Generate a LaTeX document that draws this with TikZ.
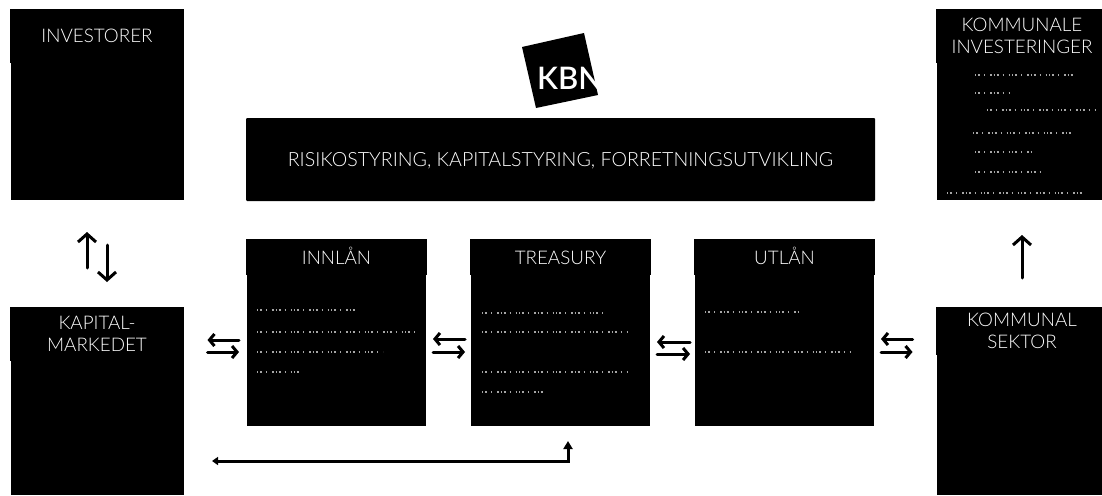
\documentclass[tikz,border=0pt]{standalone}
\usepackage{fontspec}
\setmainfont{Lato}[UprightFont=* Light, BoldFont=* Semibold]
\usetikzlibrary{positioning,arrows.meta}

\begin{document}
\begin{tikzpicture}
  [x=1pt, y=-1pt, node distance=0pt,
   panel/.style={fill=black, text=white, inner sep=0pt, outer sep=0pt, align=center, font=\fontsize{18.8}{22}\selectfont},
   head/.style={panel, anchor=north west, minimum height=#1},
   single/.style={text height=14pt, text depth=0pt},
   wide/.style={minimum width=174pt},
   mid/.style={minimum width=181pt},
   far/.style={minimum width=166pt},
   textline/.style={white!65!black, line width=1.6pt, dash pattern=on 1pt off 2pt on 2pt off 4pt on 1pt off 5pt on 1.5pt off 2pt},
   flow/.style={line width=3pt, line cap=round, -{Straight Barb[length=5pt, width=12pt]}},
   tall/.style={line width=3pt, line cap=round, -{Straight Barb[length=8pt, width=18pt]}},
   feed/.style={line width=3pt, {Triangle[length=6pt, width=8pt]}-{Triangle[length=8pt, width=9pt]}}]
  \useasboundingbox (0,0) rectangle (1102,495);

  % left and right columns
  \node (investorerhead) at (10,9) [head=54pt, wide, single] {INVESTORER};
  \node (investorer) [panel, below=of investorerhead, minimum width=173pt, minimum height=137pt] {};
  \node (kapitalhead) at (10,307) [head=54pt, wide] {KAPITAL-\\MARKEDET};
  \node (kapital) [panel, below=of kapitalhead, minimum width=173pt, minimum height=134pt] {};
  \node (investeringhead) at (936,9) [head=54pt, far] {\hspace*{6pt}KOMMUNALE\\\hspace*{6pt}INVESTERINGER};
  \node (investering) [panel, below=of investeringhead, minimum width=165pt, minimum height=137pt] {};
  \node (kommunalhead) at (936,307) [head=48pt, far] {\hspace*{6pt}KOMMUNAL\\\hspace*{6pt}SEKTOR};
  \node (kommunal) [panel, below=of kommunalhead, minimum width=165pt, minimum height=140pt] {};

  % middle
  \fill (522,47) -- (584,33) -- (598,95) -- (536,108) -- cycle;
  \node (kbn) at (537,78) [anchor=west, inner sep=0pt, text=white, font=\fontsize{31}{31}\selectfont\bfseries] {KBN};
  \node (styring) at (246,118) [head=83pt, single, minimum width=629pt, rounded corners=1pt, font=\fontsize{19.6}{22}\selectfont] {RISIKOSTYRING, KAPITALSTYRING, FORRETNINGSUTVIKLING};

  \node (innlanhead) at (246,239) [head=36pt, mid, single] {INNLÅN};
  \node (innlan) [panel, below=of innlanhead, minimum width=179pt, minimum height=151pt] {};
  \node (treasuryhead) at (470,239) [head=36pt, mid, single] {TREASURY};
  \node (treasury) [panel, below=of treasuryhead, minimum width=179pt, minimum height=151pt] {};
  \node (utlanhead) at (694,239) [head=36pt, mid, single] {UTLÅN};
  \node (utlan) [panel, below=of utlanhead, minimum width=179pt, minimum height=151pt] {};

  % body copy, too small to read in the reference
  \foreach \xa/\xb/\ya in {257/357/310, 257/417/332, 257/383/352, 257/302/372,
      482/605/313, 482/628/332, 482/627/372, 482/543/392,
      705/800/312, 705/852/352,
      975/1073/75, 975/1010/93, 987/1095/110, 973/1073/133, 975/1033/152, 975/1040/172, 947/1085/193}
    \draw[textline] (\xa,\ya) -- (\xb,\ya);

  % arrows
  \draw[tall, shorten <=39pt, shorten >=32pt] ([xshift=-10pt]kapitalhead.north) -- ([xshift=-10pt]investorer.south);
  \draw[tall, shorten <=45pt, shorten >=25pt] ([xshift=10pt]investorer.south) -- ([xshift=10pt]kapitalhead.north);
  \draw[tall, shorten <=29pt, shorten >=35pt] ([xshift=3pt]kommunalhead.north) -- ([xshift=3pt]investering.south);

  \foreach \from/\to/\ya/\yb/\sa/\sb in {kapital/innlan/340/352/24/8, innlan/treasury/339/352/7/6,
      treasury/utlan/342/354/7/5, utlan/kommunal/339/352/7/24} {
    \draw[flow, shorten <=\sb pt, shorten >=\sa pt] (\to.west |- 0,\ya) -- (\from.east |- 0,\ya);
    \draw[flow, shorten <=\sa pt, shorten >=\sb pt] (\from.east |- 0,\yb) -- (\to.west |- 0,\yb);
  }

  \coordinate (feedend) at (212,461);
  \coordinate (feedtop) at (568,441);
  \draw[feed] (feedend) -- (feedend -| feedtop) -- (feedtop);
\end{tikzpicture}
\end{document}
